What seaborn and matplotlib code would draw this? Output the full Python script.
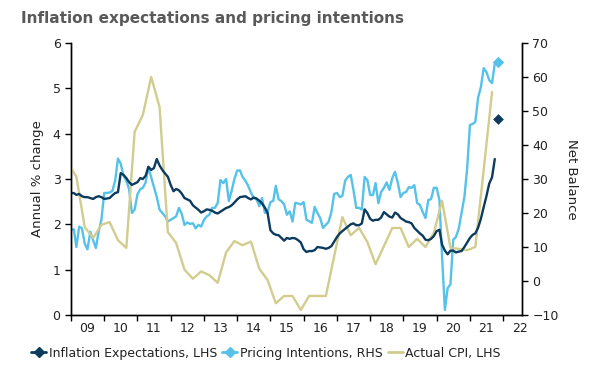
import pandas as pd
import numpy as np
import seaborn as sns
import matplotlib.pyplot as plt
import matplotlib.dates as mdates
from matplotlib.lines import Line2D

# monthly series, Jan 2009 onwards
expectations = [2.69, 2.69, 2.65, 2.67, 2.62, 2.60, 2.60, 2.58, 2.56, 2.60, 2.62, 2.60,
                2.56, 2.57, 2.58, 2.64, 2.69, 2.71, 3.13, 3.09, 3.02, 2.93, 2.87, 2.90,
                2.93, 3.02, 3.00, 3.07, 3.27, 3.20, 3.24, 3.44, 3.30, 3.20, 3.12, 3.05,
                2.87, 2.73, 2.78, 2.75, 2.68, 2.58, 2.55, 2.52, 2.42, 2.37, 2.32, 2.26,
                2.29, 2.33, 2.32, 2.30, 2.26, 2.24, 2.28, 2.32, 2.36, 2.38, 2.42, 2.48,
                2.55, 2.60, 2.61, 2.62, 2.58, 2.55, 2.59, 2.57, 2.52, 2.46, 2.37, 2.25,
                1.87, 1.80, 1.77, 1.76, 1.70, 1.64, 1.70, 1.68, 1.70, 1.69, 1.65, 1.60,
                1.45, 1.39, 1.41, 1.41, 1.43, 1.50, 1.49, 1.48, 1.46, 1.48, 1.52, 1.62,
                1.72, 1.80, 1.85, 1.90, 1.95, 2.00, 2.02, 1.98, 1.98, 2.02, 2.33, 2.25,
                2.12, 2.08, 2.10, 2.10, 2.15, 2.27, 2.22, 2.17, 2.15, 2.26, 2.22, 2.14,
                2.10, 2.06, 2.05, 2.02, 1.92, 1.86, 1.80, 1.75, 1.66, 1.65, 1.68, 1.74,
                1.85, 1.88, 1.55, 1.42, 1.34, 1.42, 1.42, 1.38, 1.40, 1.41, 1.50, 1.60,
                1.70, 1.77, 1.80, 1.93, 2.12, 2.38, 2.62, 2.90, 3.04, 3.44]

pricing = [15.0, 15.2, 10.0, 16.0, 15.5, 11.0, 9.3, 14.5, 12.0, 9.7, 14.5, 18.0,
           25.9, 25.9, 26.0, 26.5, 29.5, 36.0, 34.5, 31.0, 29.5, 27.0, 20.0, 21.0,
           25.5, 27.0, 27.4, 29.0, 33.5, 30.5, 27.5, 24.7, 21.0, 20.0, 19.0, 17.5,
           18.0, 18.5, 19.0, 21.5, 19.8, 16.5, 17.2, 16.8, 17.0, 15.5, 16.5, 16.0,
           18.0, 19.0, 19.5, 21.5, 21.5, 23.0, 29.7, 28.8, 30.0, 23.5, 26.5, 30.0,
           32.5, 32.5, 30.6, 29.5, 28.0, 26.0, 24.5, 24.0, 22.0, 24.4, 20.0, 20.3,
           23.2, 23.6, 28.0, 24.0, 23.5, 22.5, 19.5, 20.5, 17.5, 23.0, 22.8, 22.5,
           23.2, 18.0, 17.6, 17.1, 21.8, 20.0, 18.5, 15.6, 16.5, 17.4, 20.3, 25.6,
           25.9, 24.7, 25.0, 29.5, 30.6, 31.2, 26.8, 21.5, 21.5, 21.0, 30.6, 29.7,
           25.3, 25.3, 28.8, 22.9, 26.2, 27.4, 29.0, 26.8, 30.3, 32.1, 28.8, 24.7,
           25.9, 26.2, 27.6, 27.4, 28.2, 22.9, 22.4, 20.3, 18.5, 23.8, 24.1, 27.4,
           27.4, 23.8, 7.0, -8.5, -2.1, -1.0, 12.1, 13.0, 15.5, 20.0, 24.7, 33.0,
           45.9, 46.2, 46.8, 54.0, 57.0, 62.6, 61.5, 59.1, 58.2, 64.0]

# quarterly CPI, Dec 2008 onwards
cpi = [3.35, 3.05, 1.94, 1.70, 1.99, 2.05, 1.65, 1.48, 4.04, 4.41, 5.25, 4.59,
       1.83, 1.59, 1.00, 0.80, 0.96, 0.88, 0.71, 1.38, 1.63, 1.54, 1.62, 1.02,
       0.77, 0.26, 0.42, 0.42, 0.11, 0.42, 0.42, 0.42, 1.29, 2.16, 1.76, 1.92,
       1.61, 1.12, 1.52, 1.92, 1.92, 1.50, 1.68, 1.50, 1.81, 2.52, 1.48, 1.46,
       1.43, 1.50, 3.20, 4.92]

# latest readings (Nov 2021) shown as diamonds
latest_date = pd.Timestamp("2021-11-01")
expectations_latest = 4.32
pricing_latest = 64.5

months = pd.date_range("2009-01-01", periods=len(expectations), freq="MS")
quarters = pd.date_range("2008-12-01", periods=len(cpi), freq="3MS")

navy = "#0c3b5e"
light_blue = "#56c1e9"
khaki = "#d2cc8e"

sns.set_theme(style="ticks")
plt.rcParams['font.family'] = ['DejaVu Sans']

fig = plt.figure(figsize=(5.98, 3.78), dpi=100)
ax = fig.add_axes([71 / 598, 1 - 315 / 378, 451 / 598, 272 / 378])
ax2 = ax.twinx()

sns.lineplot(x=months, y=pricing, ax=ax2, color=light_blue, linewidth=1.7)
sns.scatterplot(x=[latest_date], y=[pricing_latest], ax=ax2, color=light_blue,
                marker="D", s=34, linewidth=0)

sns.lineplot(x=quarters, y=cpi, ax=ax, color=khaki, linewidth=1.7)
sns.lineplot(x=months, y=expectations, ax=ax, color=navy, linewidth=1.7)
sns.scatterplot(x=[latest_date], y=[expectations_latest], ax=ax, color=navy,
                marker="D", s=30, linewidth=0)

ax.set_zorder(ax2.get_zorder() + 1)
ax.patch.set_visible(False)

ax.set_xlim(pd.Timestamp("2009-01-01"), pd.Timestamp("2022-07-27"))
ax.set_ylim(0, 6)
ax2.set_ylim(-10, 70)
ax.set_yticks(range(0, 7))
ax2.set_yticks(range(-10, 71, 10))

ax.xaxis.set_major_locator(mdates.YearLocator())
ax.xaxis.set_major_formatter(plt.NullFormatter())
ax.xaxis.set_minor_locator(mdates.MonthLocator(bymonth=7))
ax.xaxis.set_minor_formatter(mdates.DateFormatter("%y"))
ax.tick_params(axis="x", which="minor", length=0, labelsize=9, pad=5, colors="#222222")
ax.tick_params(axis="x", which="major", length=4, width=1, color="black")
ax.tick_params(axis="y", length=4, width=1, labelsize=9, colors="#222222", color="black")
ax2.tick_params(axis="y", length=4, width=1, labelsize=9, colors="#222222", color="black")

for a in (ax, ax2):
    a.spines["top"].set_visible(False)
    for s in ("left", "right", "bottom"):
        a.spines[s].set_color("black")
        a.spines[s].set_linewidth(1)
    a.set_xlabel("")

ax.set_ylabel("Annual % change", fontsize=9.5, color="#222222", labelpad=6)
ax2.set_ylabel("Net Balance", fontsize=9.5, color="#222222", rotation=270, labelpad=14)

fig.text(21 / 598, 1 - 19 / 378, "Inflation expectations and pricing intentions",
         fontsize=11, fontweight="bold", color="#595959", va="center", ha="left")

handles = [
    Line2D([], [], color=navy, linewidth=2, marker="D", markersize=5),
    Line2D([], [], color=light_blue, linewidth=2, marker="D", markersize=5),
    Line2D([], [], color=khaki, linewidth=2),
]
labels = ["Inflation Expectations, LHS", "Pricing Intentions, RHS", "Actual CPI, LHS"]
fig.legend(handles, labels, loc="center", bbox_to_anchor=(266 / 598, 1 - 353 / 378),
           ncol=3, frameon=False, fontsize=9, handlelength=1.2, handletextpad=0.2,
           columnspacing=0.4, labelcolor="#222222")

fig.savefig("out.png", dpi=100)
